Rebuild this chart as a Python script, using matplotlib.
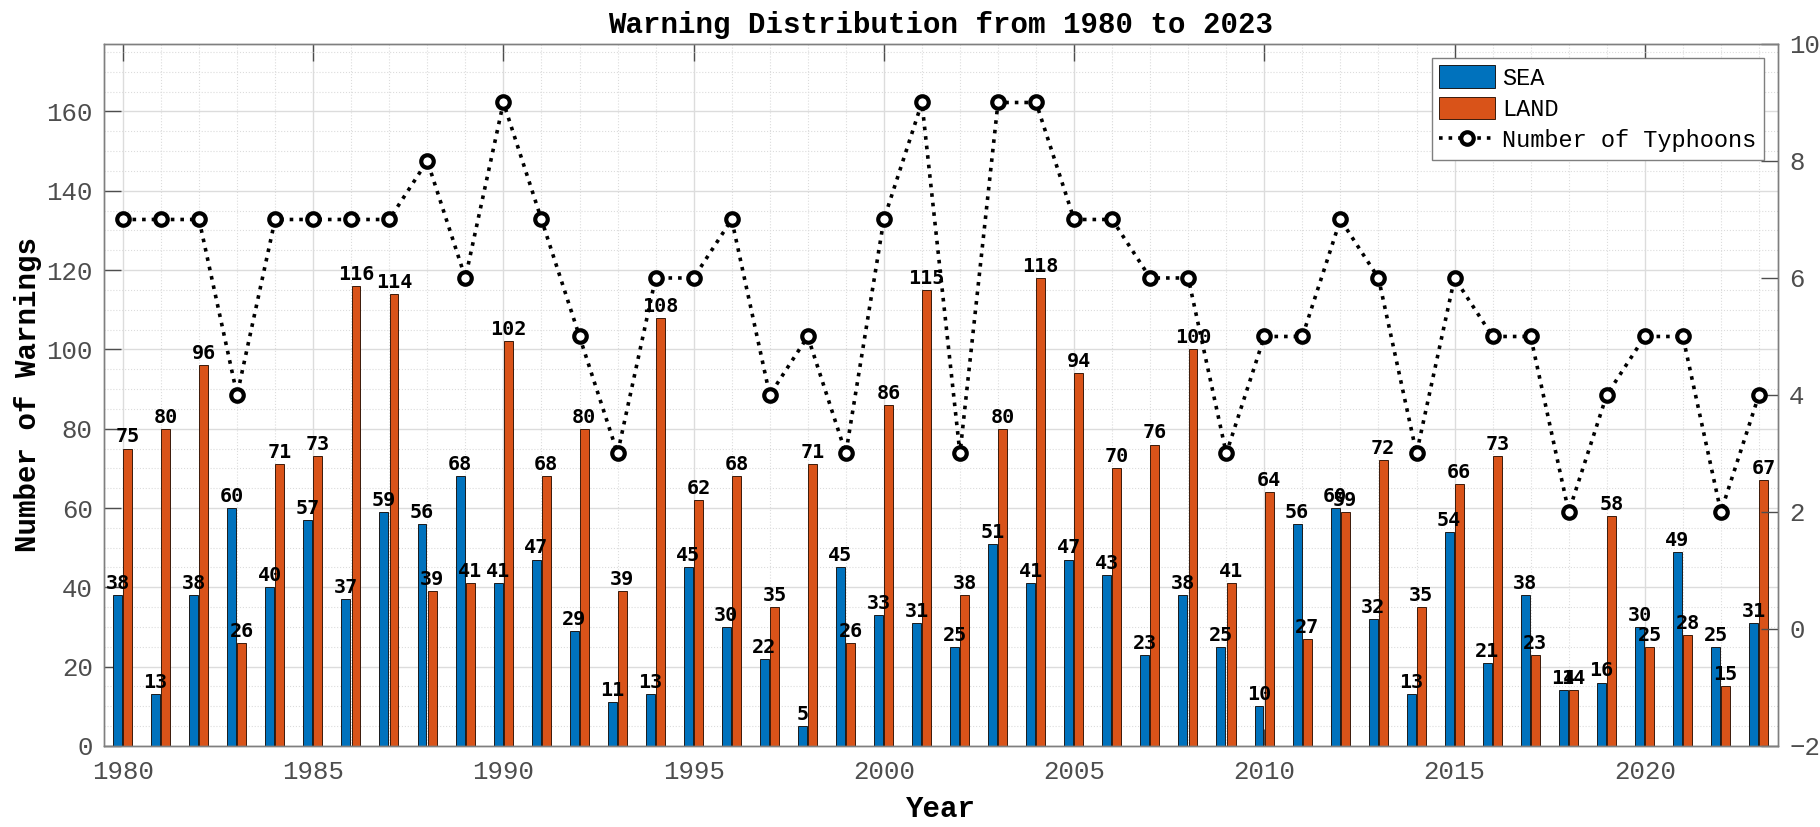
import numpy as np
import matplotlib
matplotlib.use("Agg")
import matplotlib.pyplot as plt
from matplotlib.ticker import MultipleLocator
from matplotlib.lines import Line2D
from matplotlib.patches import Patch

# ── Dados ─────────────────────────────────────────────────────────────────────
years = list(range(1980, 2024))
sea = [38, 13, 38, 60, 40, 57, 37, 59, 56, 68, 41, 47, 29, 11, 13, 45, 30, 22,
       5, 45, 33, 31, 25, 51, 41, 47, 43, 23, 38, 25, 10, 56, 60, 32, 13, 54,
       21, 38, 14, 16, 30, 49, 25, 31]
land = [75, 80, 96, 26, 71, 73, 116, 114, 39, 41, 102, 68, 80, 39, 108, 62, 68,
        35, 71, 26, 86, 115, 38, 80, 118, 94, 70, 76, 100, 41, 64, 27, 59, 72,
        35, 66, 73, 23, 14, 58, 25, 28, 15, 67]
typhoons = [7, 7, 7, 4, 7, 7, 7, 7, 8, 6, 9, 7, 5, 3, 6, 6, 7, 4, 5, 3, 7, 9, 3,
            9, 9, 7, 7, 6, 6, 3, 5, 5, 7, 6, 3, 6, 5, 5, 2, 4, 5, 5, 2, 4]

# ── Estilo (cores MATLAB) ─────────────────────────────────────────────────────
C_SEA = "#0072BD"
C_LAND = "#D95319"
TICK_GRAY = "#4d4d4d"
MONO = "Liberation Mono"
LABEL_FONT = "DejaVu Sans Mono"

plt.rcParams["font.family"] = MONO

fig = plt.figure(figsize=(18.2, 8.27), dpi=100)
ax = fig.add_axes([0.0571, 0.098, 0.9198, 0.8488])
ax2 = ax.twinx()

x = np.array(years)
w = 0.235
ax.bar(x - 0.14, sea, w, color=C_SEA, edgecolor="#1a1a1a", linewidth=0.7, zorder=2)
ax.bar(x + 0.125, land, w, color=C_LAND, edgecolor="#3a1a0a", linewidth=0.7, zorder=2)

# Rótulos de valor acima das barras
for xs, vals in ((x - 0.14, sea), (x + 0.125, land)):
    for xi, v in zip(xs, vals):
        ax.annotate(str(v), (xi, v), xytext=(0, 1.5), textcoords="offset points",
                    ha="center", va="bottom", fontsize=14.5, fontweight="bold",
                    family=LABEL_FONT, color="black", zorder=3)

ax2.plot(x, typhoons, linestyle=":", color="black", linewidth=2.6,
         marker="o", markersize=9, markeredgewidth=3,
         markerfacecolor="white", markeredgecolor="black")

# ── Eixos ─────────────────────────────────────────────────────────────────────
ax.set_xlim(1979.5, 2023.5)
ax.set_ylim(0, 177)
ax2.set_ylim(-2, 10)

ax.xaxis.set_major_locator(MultipleLocator(5))
ax.xaxis.set_minor_locator(MultipleLocator(1))
ax.yaxis.set_major_locator(MultipleLocator(20))
ax.yaxis.set_minor_locator(MultipleLocator(5))
ax2.yaxis.set_major_locator(MultipleLocator(2))

ax.set_axisbelow(True)
ax.grid(True, which="major", color="#dcdcdc", linewidth=1.0, linestyle="-")
ax.grid(True, which="minor", color="#dcdcdc", linewidth=0.8, linestyle=":")

ax.tick_params(axis="both", which="major", direction="in", length=12, width=1,
               color=TICK_GRAY, labelsize=18.5, labelcolor=TICK_GRAY, pad=8)
ax.tick_params(axis="x", which="major", top=True, pad=10)
ax.tick_params(which="minor", length=0)
ax2.tick_params(axis="y", which="major", direction="in", length=12, width=1,
                color=TICK_GRAY, labelsize=18.5, labelcolor=TICK_GRAY, pad=8)
# marcas de x por cima das barras
ax2.tick_params(axis="x", which="major", direction="in", length=12, width=1,
                color="black", bottom=True, top=True, labelbottom=False)
ax2.xaxis.set_major_locator(MultipleLocator(5))

for a in (ax, ax2):
    for sp in a.spines.values():
        sp.set_color("#7f7f7f")
        sp.set_linewidth(1.0)

ax.set_title("Warning Distribution from 1980 to 2023", fontsize=21,
             fontweight="bold", family=MONO, pad=8)
ax.set_xlabel("Year", fontsize=21, fontweight="bold", labelpad=8)
ax.set_ylabel("Number of Warnings", fontsize=21, fontweight="bold", labelpad=3)

handles = [
    Patch(facecolor=C_SEA, edgecolor="#1a1a1a", linewidth=0.7),
    Patch(facecolor=C_LAND, edgecolor="#3a1a0a", linewidth=0.7),
    Line2D([], [], linestyle=":", color="black", linewidth=2.6, marker="o",
           markersize=9, markeredgewidth=3, markerfacecolor="white"),
]
leg = ax2.legend(handles, ["SEA", "LAND", "Number of Typhoons"], loc="upper right",
                 fontsize=17, fancybox=False, framealpha=1, edgecolor="#7f7f7f",
                 handlelength=2.4, handleheight=1.1, borderaxespad=0.6,
                 labelspacing=0.3, handletextpad=0.3, borderpad=0.3)
leg.get_frame().set_linewidth(1.0)

fig.savefig("out.png", dpi=100)
